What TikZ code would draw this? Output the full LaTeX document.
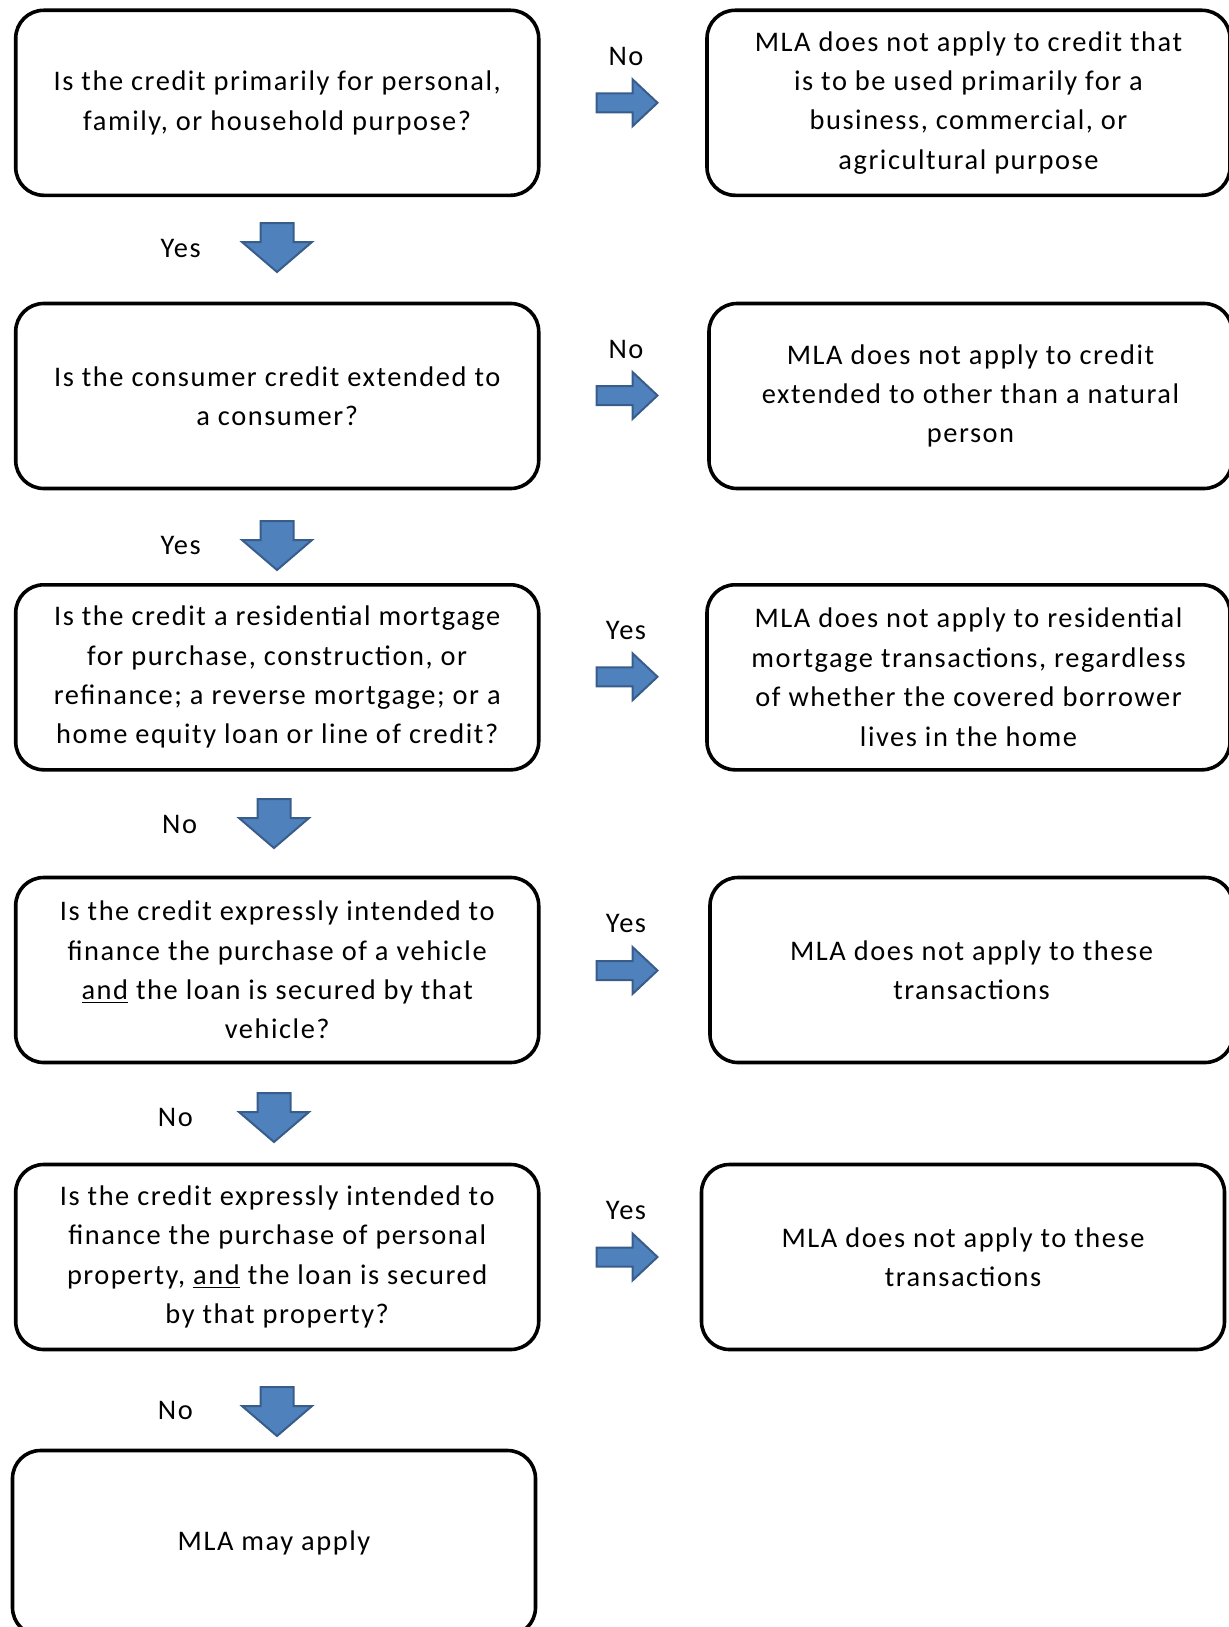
\documentclass[tikz,border=0pt]{standalone}
\usepackage{fontspec}
\setmainfont{Carlito}
\newfontfamily\boxfont{Carlito}[LetterSpace=5.5]
\usetikzlibrary{positioning}
\definecolor{arrowfill}{HTML}{4F81BD}
\definecolor{arrowline}{HTML}{385D8A}

\begin{document}
\begin{tikzpicture}[
        x=0.5pt, y=-0.5pt,
        box/.style={rectangle, draw, rounded corners=14pt, line width=1.8pt, minimum width=261.5pt, minimum height=92.5pt, align=center, inner sep=0pt, font=\boxfont\fontsize{14.2}{19.7}\selectfont},
        answer/.style={inner sep=0pt, font=\boxfont\fontsize{14.2}{16}\selectfont},
        blockarrow/.style={fill=arrowfill, draw=arrowline, line width=1pt, line join=miter}
    ]
    \useasboundingbox (0,0) rectangle (1229,1627);

    % Questions (left column)
    \node[box] (q1) at (277.2, 102.8) {Is the credit primarily for personal,\\ family, or household purpose?};
    \node[box] (q2) at (277.2, 396) {Is the consumer credit extended to\\ a consumer?};
    \node[box] (q3) at (277.2, 677.3) {Is the credit a residential mortgage\\ for purchase, construction, or\\ refinance; a reverse mortgage; or a\\ home equity loan or line of credit?};
    \node[box] (q4) at (277.2, 970) {Is the credit expressly intended to\\ finance the purchase of a vehicle\\ \underline{and} the loan is secured by that\\ vehicle?};
    \node[box] (q5) at (277.2, 1257) {Is the credit expressly intended to\\ finance the purchase of personal\\ property, \underline{and} the loan is secured\\ by that property?};
    \node[box] (q6) at (274, 1543) {MLA may apply};

    % Outcomes (right column)
    \node[box] (r1) at (968.5, 102.8) {MLA does not apply to credit that\\ is to be used primarily for a\\ business, commercial, or\\ agricultural purpose};
    \node[box] (r2) at (970.5, 396) {MLA does not apply to credit\\ extended to other than a natural\\ person};
    \node[box] (r3) at (968.5, 677.3) {MLA does not apply to residential\\ mortgage transactions, regardless\\ of whether the covered borrower\\ lives in the home};
    \node[box] (r4) at (971.5, 970) {MLA does not apply to these\\ transactions};
    \node[box] (r5) at (963, 1257) {MLA does not apply to these\\ transactions};

    % --------------------------------------------------
    % Right arrows with their answers
    \foreach \y/\lab/\ly [count=\i] in {102.8/No/56, 395.5/No/349, 676.8/Yes/630, 970.5/Yes/923, 1257/Yes/1210} {
        \node[answer] (ra\i) at (626, \ly) {\lab};
        \draw[blockarrow, shift={(627,\y)}]
            (-30.5,-9.5) -- (5.5,-9.5) -- (5.5,-23.5) -- (30.5,0) -- (5.5,23.5) -- (5.5,9.5) -- (-30.5,9.5) -- cycle;
    }

    % --------------------------------------------------
    % Down arrows with their answers
    \foreach \x/\y/\lab/\lx/\ly [count=\i] in {277/223/Yes/180.6/248, 277/521/Yes/180.6/545, 274/799/No/179.6/824, 274/1093/No/175.4/1117, 277/1387/No/175.4/1410} {
        \node[answer] (da\i) at (\lx, \ly) {\lab};
        \draw[blockarrow, shift={(\x,\y)}]
            (-16.5,0) -- (16.5,0) -- (16.5,19) -- (35,19) -- (0,49) -- (-35,19) -- (-16.5,19) -- cycle;
    }

\end{tikzpicture}
\end{document}
